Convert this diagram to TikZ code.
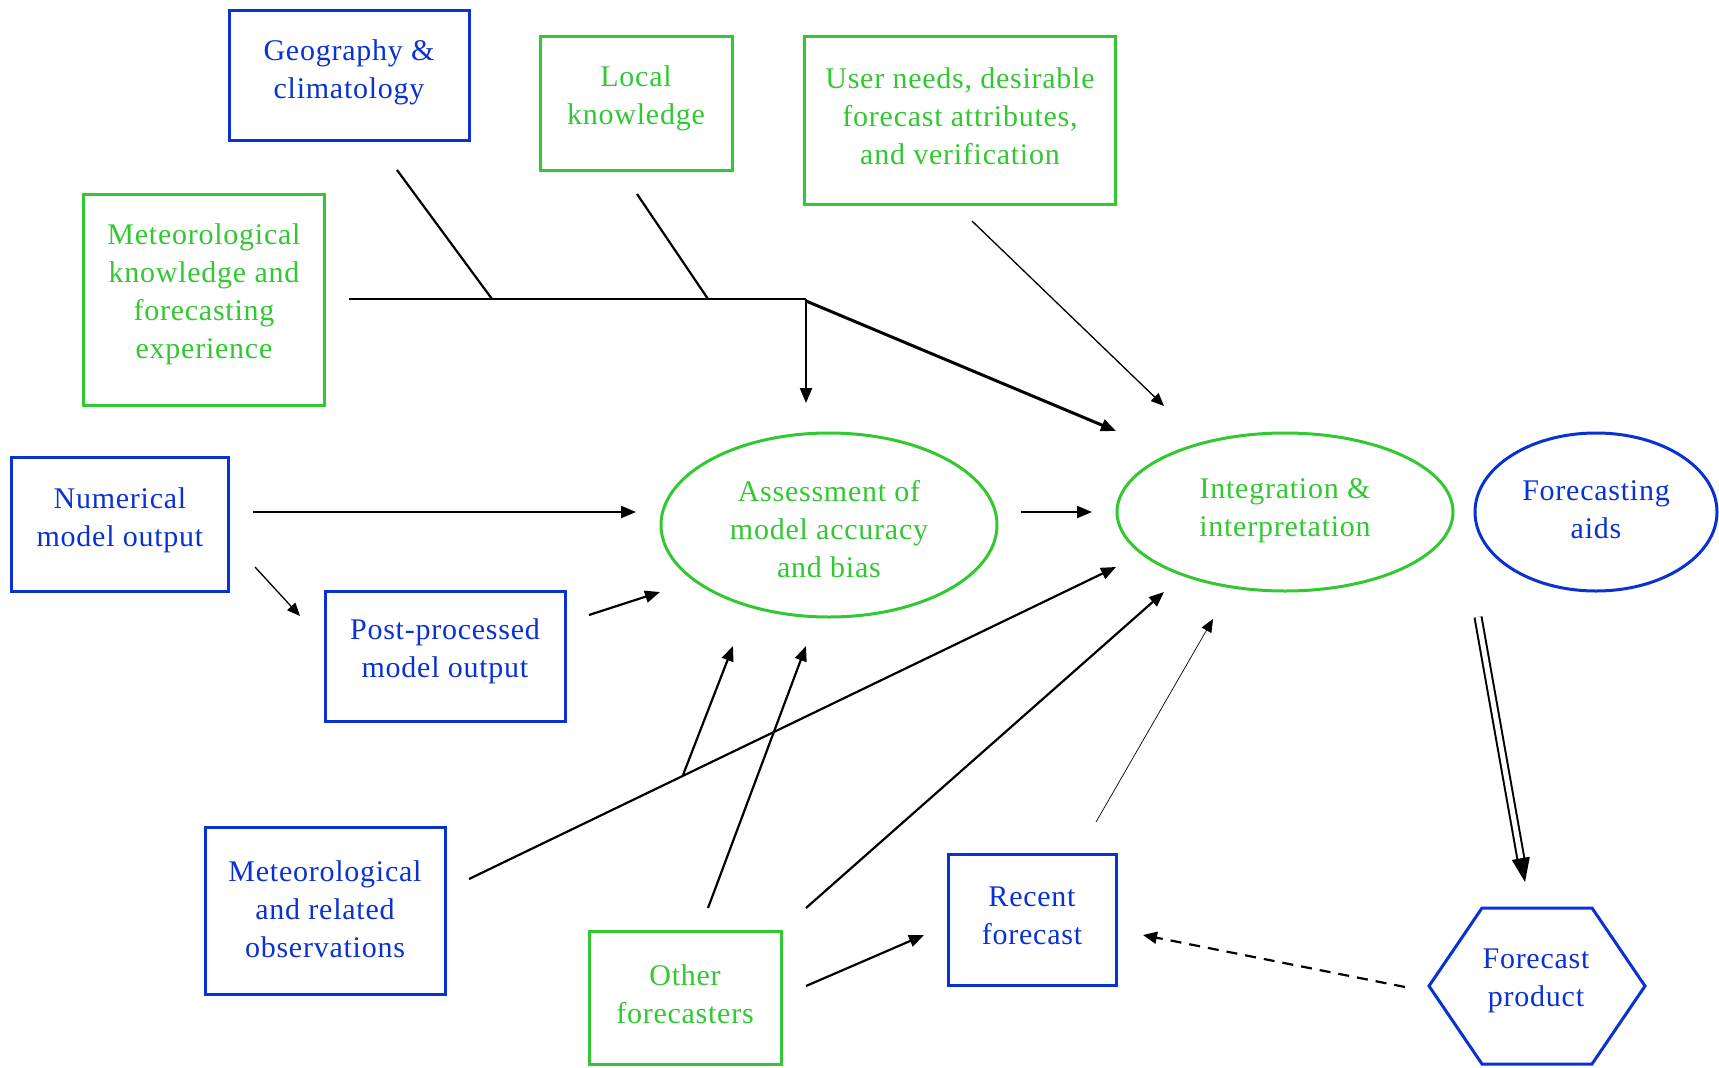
\documentclass[tikz,border=0pt]{standalone}
\usepackage{fontspec}
\setmainfont[LetterSpace=2.5]{Liberation Serif}
\usetikzlibrary{shapes.geometric,arrows.meta,calc}
\definecolor{bblue}{RGB}{10,50,210}
\definecolor{ggreen}{RGB}{50,200,50}
\tikzset{
  txt/.style={align=center,font=\fontsize{30}{38}\selectfont,inner sep=0pt},
  bbox/.style={draw=bblue,text=bblue,line width=3pt,rectangle,txt},
  gbox/.style={draw=ggreen,text=ggreen,line width=3pt,rectangle,txt},
  gell/.style={draw=ggreen,text=ggreen,line width=3pt,ellipse,txt},
  bell/.style={draw=bblue,text=bblue,line width=3pt,ellipse,txt},
  conn/.style={line width=2.2pt,black},
  arr/.style={conn,-{Triangle[length=15pt,width=12pt]}},
  tarr/.style={line width=1.3pt,black,-{Triangle[length=13pt,width=11pt]}},
}
\begin{document}
\begin{tikzpicture}[x=1pt,y=-1pt]
\useasboundingbox[fill=white] (0,0) rectangle (1719,1068);
% boxes
\node[bbox,minimum width=240,minimum height=130] (geo) at (349,75) {};
\node[txt,text=bblue] at (349,72) {Geography \&\\climatology};
\node[gbox,minimum width=192,minimum height=134] (loc) at (636,103) {};
\node[txt,text=ggreen] at (636,98) {Local\\knowledge};
\node[gbox,minimum width=311,minimum height=168] (user) at (960,120) {};
\node[txt,text=ggreen] at (960,116) {User needs, desirable\\forecast attributes,\\and verification};
\node[gbox,minimum width=241,minimum height=211] (met) at (204,300) {};
\node[txt,text=ggreen] at (204,294) {Meteorological\\knowledge and\\forecasting\\experience};
\node[bbox,minimum width=217,minimum height=134] (num) at (120,524) {};
\node[txt,text=bblue] at (120,520) {Numerical\\model output};
\node[bbox,minimum width=240,minimum height=130] (post) at (445,656) {};
\node[txt,text=bblue] at (445,651) {Post-processed\\model output};
\node[gell,minimum width=336,minimum height=184] (ass) at (829,525) {};
\node[txt,text=ggreen] at (829,529) {Assessment of\\model accuracy\\and bias};
\node[gell,minimum width=336,minimum height=158] (int) at (1285,512) {};
\node[txt,text=ggreen] at (1285,511) {Integration \&\\interpretation};
\node[bell,minimum width=242,minimum height=158] (aids) at (1596,512) {};
\node[txt,text=bblue] at (1596,510) {Forecasting\\aids};
\node[bbox,minimum width=240,minimum height=167] (obs) at (325,911) {};
\node[txt,text=bblue] at (325,909) {Meteorological\\and related\\observations};
\node[gbox,minimum width=192,minimum height=133] (oth) at (685,998) {};
\node[txt,text=ggreen] at (685,994) {Other\\forecasters};
\node[bbox,minimum width=168,minimum height=131] (rec) at (1032,920) {};
\node[txt,text=bblue] at (1032,916) {Recent\\forecast};
% hexagon
\draw[bblue,line width=3pt] (1429,986) -- (1482,908) -- (1592,908) -- (1645,986) -- (1592,1064) -- (1482,1064) -- cycle;
\node[txt,text=bblue] (prod) at (1536,981) {Forecast\\product};
% coordinates
\coordinate (g1) at (397,170);
\coordinate (g2) at (492,299);
\coordinate (h1) at (349,299);
\coordinate (h2) at (806,299);
\coordinate (l1) at (637,194);
\coordinate (l2) at (708,299);
\coordinate (d1) at (806,403);
\coordinate (h3) at (806,301);
\coordinate (i1) at (1116,431);
\coordinate (u1) at (972,221);
\coordinate (u2) at (1164,406);
\coordinate (n1) at (253,512);
\coordinate (n2) at (636,512);
\coordinate (n3) at (255,567);
\coordinate (n4) at (300,616);
\coordinate (p1) at (589,615);
\coordinate (p2) at (660,592);
\coordinate (a1) at (1021,512);
\coordinate (a2) at (1092,512);
\coordinate (o1) at (469,879);
\coordinate (o2) at (1116,567);
\coordinate (b1) at (683,775);
\coordinate (b2) at (733,646);
\coordinate (f1) at (708,908);
\coordinate (f2) at (806,646);
\coordinate (f3) at (806,908);
\coordinate (f4) at (1164,592);
\coordinate (f5) at (806,986);
\coordinate (f6) at (924,935);
\coordinate (r1) at (1096,822);
\coordinate (r2) at (1213,619);
\coordinate (dA) at (1478,617);
\coordinate (dB) at (1525,882);
\coordinate (q1) at (1405,987);
\coordinate (q2) at (1143,935);
% connectors
\draw[conn] (g1) -- (g2);
\draw[conn] (l1) -- (l2);
\draw[conn] (h1) -- (h2);
\draw[arr] (h2) -- (d1);
\draw[arr,line width=3pt] (h3) -- (i1);
\draw[tarr] (u1) -- (u2);
\draw[arr] (n1) -- (n2);
\draw[tarr] (n3) -- (n4);
\draw[arr] (p1) -- (p2);
\draw[arr] (a1) -- (a2);
\draw[arr] (o1) -- (o2);
\draw[arr] (b1) -- (b2);
\draw[arr] (f1) -- (f2);
\draw[arr] (f3) -- (f4);
\draw[arr] (f5) -- (f6);
\draw[line width=0.7pt,-{Triangle[length=13pt,width=11pt]}] (r1) -- (r2);
\draw[black,line width=2pt,double=white,double distance=5pt] (dA) -- ($(dB)!20pt!(dA)$);
\draw[black,line width=1pt,-{Triangle[length=24pt,width=18pt]}] ($(dB)!22pt!(dA)$) -- (dB);
\draw[line width=2.2pt,dash pattern=on 11pt off 8pt,-{Triangle[length=14pt,width=12pt]}] (q1) -- (q2);
\end{tikzpicture}
\end{document}
